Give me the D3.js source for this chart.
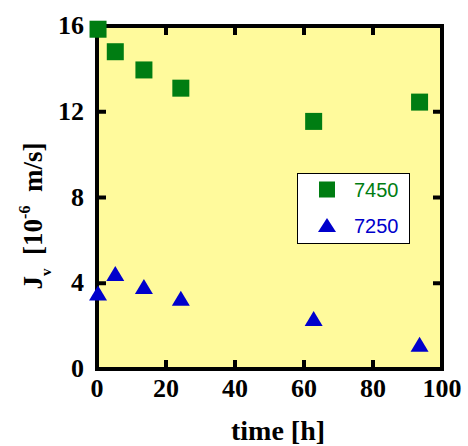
<!DOCTYPE html>
<html>
<head>
<meta charset="utf-8">
<script src="https://cdn.jsdelivr.net/npm/d3@7"></script>
<style>
  body { margin: 0; background: #fff; }
  svg { display: block; }
</style>
</head>
<body>
<div id="chart"></div>
<script>
(function () {
  const width = 468, height = 446;
  const margin = { top: 26, right: 26, bottom: 77, left: 97 };

  // data
  const timeH = [0.3, 5.3, 13.6, 24.3, 62.8, 93.5];
  const jv7450 = [15.85, 14.8, 13.95, 13.1, 11.55, 12.45];
  const jv7250 = [3.55, 4.45, 3.85, 3.3, 2.35, 1.15];
  const xTicks = [0, 20, 40, 60, 80, 100];
  const yTicks = [0, 4, 8, 12, 16];

  const GREEN = "#007d12";
  const BLUE = "#0000cc";
  const BG = "#fffa9c";

  const svg = d3.select("#chart").append("svg")
    .attr("width", width)
    .attr("height", height);

  const innerW = width - margin.left - margin.right;
  const innerH = height - margin.top - margin.bottom;

  const x = d3.scaleLinear().domain([0, 100]).range([margin.left, margin.left + innerW]);
  const y = d3.scaleLinear().domain([0, 16]).range([margin.top + innerH, margin.top]);

  // plot background
  svg.append("rect")
    .attr("x", x(0)).attr("y", y(16))
    .attr("width", innerW).attr("height", innerH)
    .attr("fill", BG);

  // inward ticks on all sides
  const tickLen = 9;
  const ticksG = svg.append("g").attr("stroke", "#000").attr("stroke-width", 4);
  xTicks.slice(1, -1).forEach(t => {
    ticksG.append("line").attr("x1", x(t)).attr("x2", x(t)).attr("y1", y(0)).attr("y2", y(0) - tickLen);
    ticksG.append("line").attr("x1", x(t)).attr("x2", x(t)).attr("y1", y(16)).attr("y2", y(16) + tickLen);
  });
  yTicks.slice(1, -1).forEach(t => {
    ticksG.append("line").attr("x1", x(0)).attr("x2", x(0) + tickLen).attr("y1", y(t)).attr("y2", y(t));
    ticksG.append("line").attr("x1", x(100)).attr("x2", x(100) - tickLen).attr("y1", y(t)).attr("y2", y(t));
  });

  // frame
  svg.append("rect")
    .attr("x", x(0)).attr("y", y(16))
    .attr("width", innerW).attr("height", innerH)
    .attr("fill", "none")
    .attr("stroke", "#000")
    .attr("stroke-width", 4);

  // tick labels
  const labelFont = "'Liberation Serif', 'Times New Roman', serif";
  svg.append("g").selectAll("text")
    .data(xTicks)
    .join("text")
    .attr("x", d => x(d))
    .attr("y", 397)
    .attr("text-anchor", "middle")
    .style("font-family", labelFont)
    .style("font-weight", "bold")
    .style("font-size", "26px")
    .text(d => d);

  svg.append("g").selectAll("text")
    .data(yTicks)
    .join("text")
    .attr("x", 84)
    .attr("y", d => y(d) + 8)
    .attr("text-anchor", "end")
    .style("font-family", labelFont)
    .style("font-weight", "bold")
    .style("font-size", "26px")
    .text(d => d);

  // axis titles
  svg.append("text")
    .attr("x", 278)
    .attr("y", 440)
    .attr("text-anchor", "middle")
    .style("font-family", labelFont)
    .style("font-weight", "bold")
    .style("font-size", "28px")
    .text("time [h]");

  const yTitle = svg.append("text")
    .attr("transform", "translate(42,216) rotate(-90)")
    .attr("text-anchor", "middle")
    .style("font-family", labelFont)
    .style("font-weight", "bold")
    .style("font-size", "27px")
    .attr("xml:space", "preserve");
  yTitle.append("tspan").text("J");
  yTitle.append("tspan").attr("dy", 9).style("font-size", "15px").text("v");
  yTitle.append("tspan").attr("dy", -9).text("  [10");
  yTitle.append("tspan").attr("dy", -12).style("font-size", "16px").text("-6");
  yTitle.append("tspan").attr("dy", 12).text("  m/s]");

  // markers
  const sq = 17;
  svg.append("g").selectAll("rect")
    .data(timeH.map((t, i) => [t, jv7450[i]]))
    .join("rect")
    .attr("x", d => x(d[0]) - sq / 2)
    .attr("y", d => y(d[1]) - sq / 2)
    .attr("width", sq)
    .attr("height", sq)
    .attr("fill", GREEN);

  const triW = 18, triH = 15;
  const triPath = (cx, cy) =>
    `M${cx},${cy - triH / 2}L${cx + triW / 2},${cy + triH / 2}L${cx - triW / 2},${cy + triH / 2}Z`;

  svg.append("g").selectAll("path")
    .data(timeH.map((t, i) => [t, jv7250[i]]))
    .join("path")
    .attr("d", d => triPath(x(d[0]), y(d[1])))
    .attr("fill", BLUE);

  // legend
  const leg = svg.append("g");
  leg.append("rect")
    .attr("x", 297.5).attr("y", 173.5)
    .attr("width", 112).attr("height", 70)
    .attr("fill", "#fff")
    .attr("stroke", "#000")
    .attr("stroke-width", 1);
  leg.append("rect")
    .attr("x", 327 - 8).attr("y", 189.5 - 8)
    .attr("width", 16).attr("height", 16)
    .attr("fill", GREEN);
  leg.append("path")
    .attr("d", `M327,${225 - 7}L336,${225 + 7}L318,${225 + 7}Z`)
    .attr("fill", BLUE);
  const legFont = "'Liberation Sans', Arial, sans-serif";
  leg.append("text")
    .attr("x", 354).attr("y", 197)
    .style("font-family", legFont)
    .style("font-size", "20px")
    .attr("fill", GREEN)
    .text("7450");
  leg.append("text")
    .attr("x", 354).attr("y", 233)
    .style("font-family", legFont)
    .style("font-size", "20px")
    .attr("fill", BLUE)
    .text("7250");
})();
</script>
</body>
</html>
